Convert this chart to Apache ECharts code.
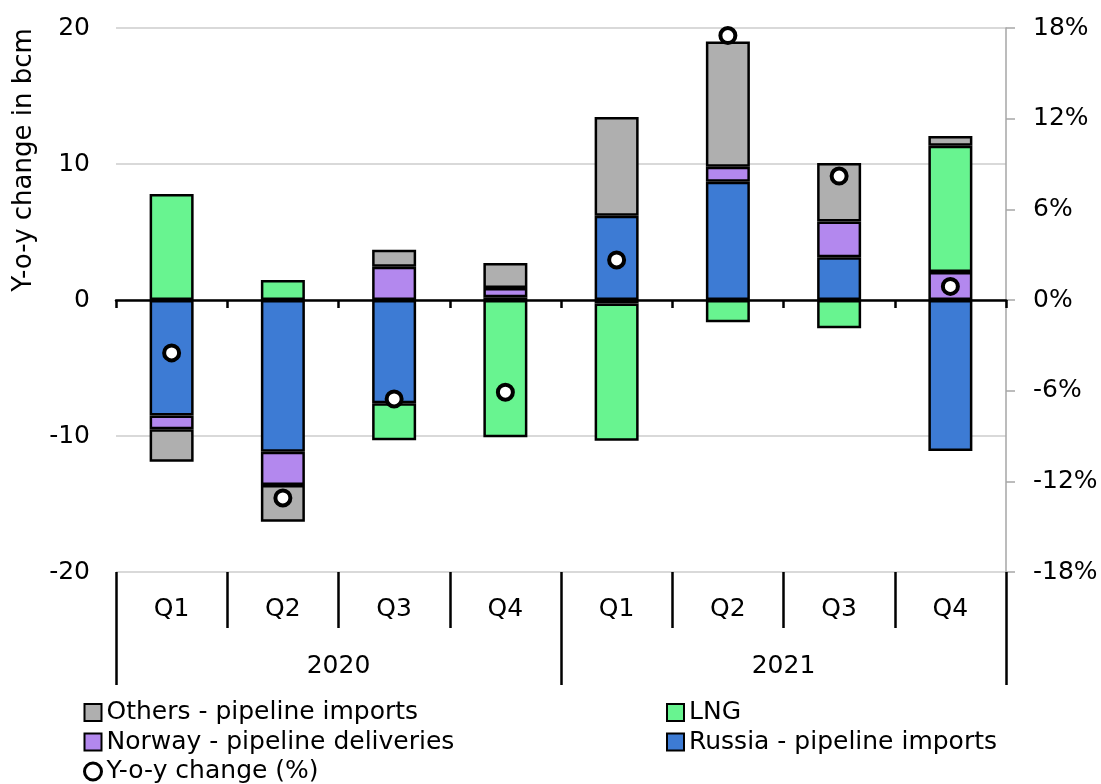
<!DOCTYPE html>
<html>
<head>
<meta charset="utf-8">
<script src="https://cdn.jsdelivr.net/npm/echarts@6/dist/echarts.min.js"></script>
<style>
  html, body { margin: 0; padding: 0; background: #fff; }
  #chart { width: 1101px; height: 784px; }
</style>
</head>
<body>
<div id="chart"></div>
<script>
// quarters and years on the x axis
const quarters = ['Q1', 'Q2', 'Q3', 'Q4', 'Q1', 'Q2', 'Q3', 'Q4'];
const years = ['2020', '2021'];

// y-o-y change in bcm, per supply source
const russia = [-8.5, -11.15, -7.6, 0.2, 6.2, 8.7, 3.15, -11.1];
const norway = [-1.0, -2.45, 2.45, 0.68, -0.25, 1.1, 2.62, 2.05];
const lng = [7.8, 1.47, -2.72, -10.1, -10.1, -1.64, -2.08, 9.3];
const others = [-2.4, -2.7, 1.25, 1.84, 7.25, 9.2, 4.3, 0.7];
// total y-o-y change in percent (right axis)
const yoyPct = [-3.5, -13.1, -6.55, -6.1, 2.65, 17.5, 8.2, 0.9];

const leftTicks = { min: -20, max: 20, interval: 10 };
const rightTicks = { min: -18, max: 18, interval: 6 };

const FONT = 'DejaVu Sans';
const border = { borderColor: '#000', borderWidth: 2.5 };

const chart = echarts.init(document.getElementById('chart'));

const barSeries = (name, data, color) => ({
    name: name,
    type: 'bar',
    stack: 'total',
    xAxisIndex: 1,
    yAxisIndex: 0,
    barWidth: 44,
    data: data,
    itemStyle: Object.assign({ color: color }, border),
});

const legendText = { fontFamily: FONT, fontSize: 25, color: '#000', lineHeight: 25 };

const option = {
    animation: false,
    textStyle: { fontFamily: FONT },
    grid: { left: 116, right: 95, top: 28, bottom: 212 },
    legend: [
        {
            orient: 'vertical',
            left: 83,
            top: 700,
            height: 90,
            padding: 0,
            itemWidth: 17,
            itemHeight: 17,
            itemGap: 4.5,
            textStyle: legendText,
            data: [
                { name: 'Others - pipeline imports', icon: 'rect' },
                { name: 'Norway - pipeline deliveries', icon: 'rect' },
                {
                    name: 'Y-o-y change (%)', icon: 'circle',
                    itemStyle: { color: '#fff', borderColor: '#000', borderWidth: 3, opacity: 1 },
                },
            ],
        },
        {
            orient: 'vertical',
            left: 666,
            top: 700,
            height: 90,
            padding: 0,
            itemWidth: 17,
            itemHeight: 17,
            itemGap: 4.5,
            textStyle: legendText,
            data: [
                { name: 'LNG', icon: 'rect' },
                { name: 'Russia - pipeline imports', icon: 'rect' },
            ],
        },
    ],
    xAxis: [
        {
            // zero line with small ticks
            type: 'category',
            data: quarters,
            position: 'bottom',
            axisLine: { onZero: true, lineStyle: { color: '#000', width: 2.5 } },
            axisTick: { show: true, length: 8, interval: 0, lineStyle: { color: '#000', width: 2.5 } },
            axisLabel: { show: false },
            splitLine: { show: false },
            z: 5,
        },
        {
            // quarter labels under the plot
            type: 'category',
            data: quarters,
            position: 'bottom',
            axisLine: { show: false, onZero: false },
            axisTick: { show: true, length: 56, interval: 0, lineStyle: { color: '#000', width: 2.5 } },
            axisLabel: { fontFamily: FONT, fontSize: 25, color: '#000', margin: 25, interval: 0 },
            splitLine: { show: false },
        },
        {
            // year labels
            type: 'category',
            data: years,
            position: 'bottom',
            axisLine: { show: false, onZero: false },
            axisTick: { show: true, length: 113, interval: 0, lineStyle: { color: '#000', width: 2.5 } },
            axisLabel: { fontFamily: FONT, fontSize: 25, color: '#000', margin: 82, interval: 0 },
            splitLine: { show: false },
        },
    ],
    yAxis: [
        {
            type: 'value',
            min: leftTicks.min,
            max: leftTicks.max,
            interval: leftTicks.interval,
            axisLine: { show: false },
            axisTick: { show: false },
            axisLabel: { fontFamily: FONT, fontSize: 25, color: '#000', margin: 26 },
            splitLine: { show: true, lineStyle: { color: '#d9d9d9', width: 2 } },
        },
        {
            type: 'value',
            position: 'right',
            min: rightTicks.min,
            max: rightTicks.max,
            interval: rightTicks.interval,
            axisLine: { show: true, lineStyle: { color: '#a6a6a6', width: 1.5 } },
            axisTick: { show: true, length: 9, lineStyle: { color: '#a6a6a6', width: 1.5 } },
            axisLabel: {
                fontFamily: FONT, fontSize: 25, color: '#000', margin: 27,
                formatter: '{value}%',
            },
            splitLine: { show: false },
        },
    ],
    graphic: [
        {
            type: 'text',
            x: 24,
            y: 160,
            rotation: Math.PI / 2,
            style: {
                text: 'Y-o-y change in bcm',
                font: '26px "DejaVu Sans"',
                fill: '#000',
                textAlign: 'center',
                textVerticalAlign: 'middle',
            },
        },
    ],
    series: [
        barSeries('Russia - pipeline imports', russia, '#3d7bd4'),
        barSeries('Norway - pipeline deliveries', norway, '#b388ee'),
        barSeries('LNG', lng, '#68f490'),
        barSeries('Others - pipeline imports', others, '#afafaf'),
        {
            name: 'Y-o-y change (%)',
            type: 'scatter',
            xAxisIndex: 1,
            yAxisIndex: 1,
            symbol: 'circle',
            symbolSize: 15,
            data: yoyPct,
            itemStyle: { color: '#fff', borderColor: '#000', borderWidth: 4, opacity: 1 },
            z: 10,
        },
    ],
};

chart.setOption(option);
</script>
</body>
</html>
